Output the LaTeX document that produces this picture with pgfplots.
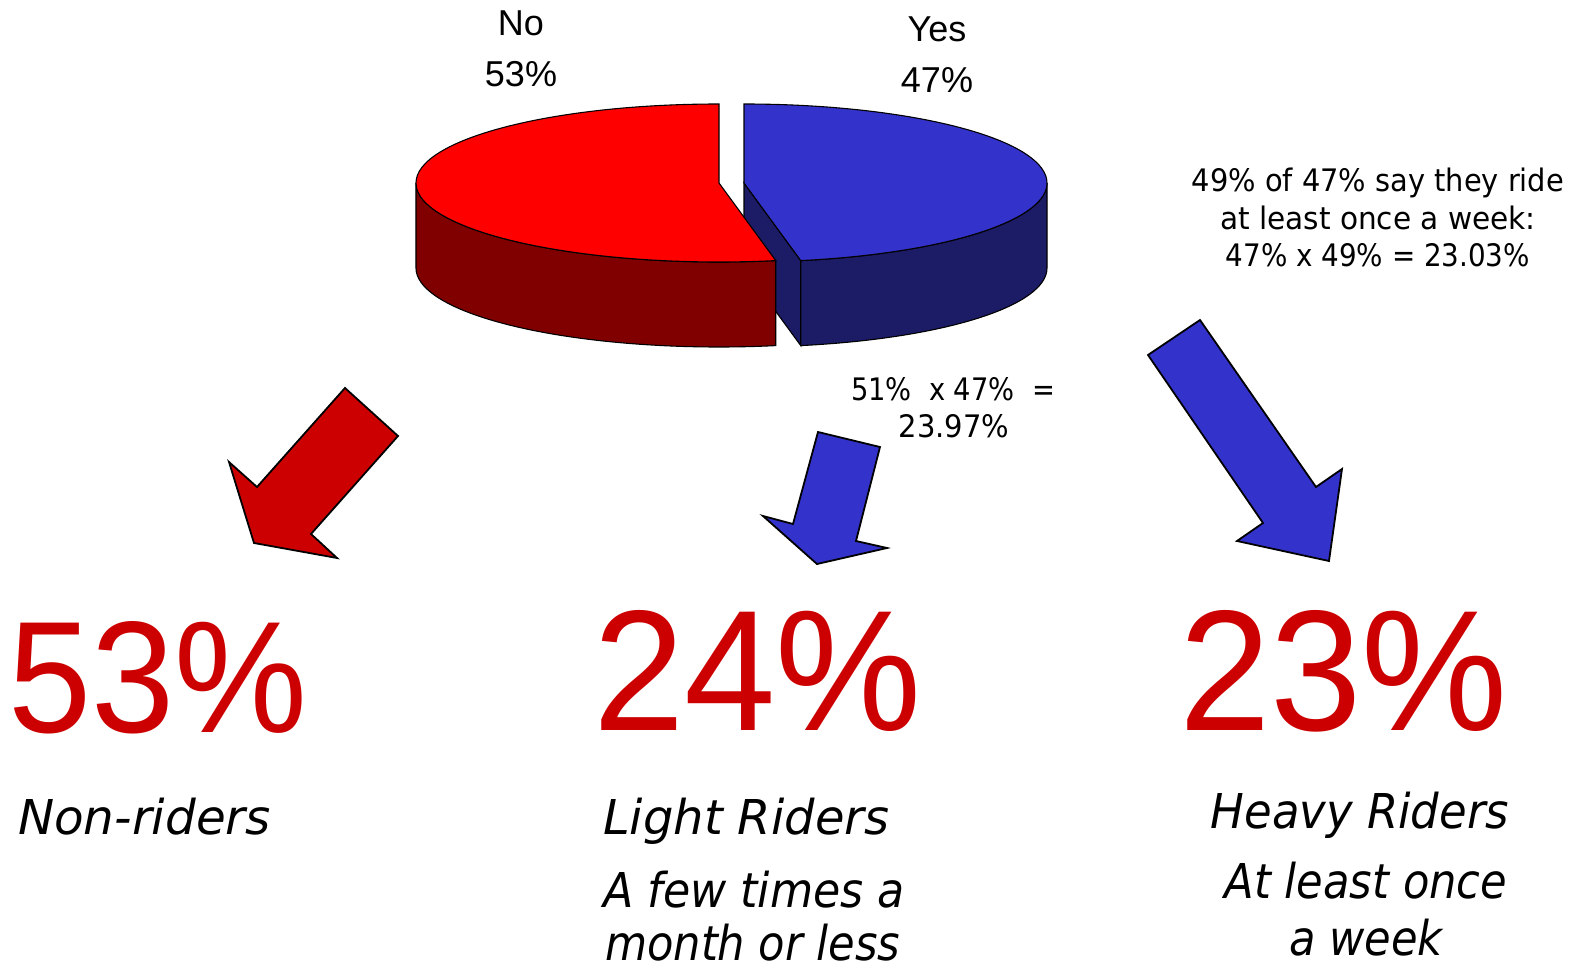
\documentclass[border=0pt]{standalone}
\usepackage{pgfplots}
\pgfplotsset{compat=1.18}
\usepackage{pgfplotstable}
\usepackage{fontspec}
\setmainfont{DejaVu Sans Condensed}
\newfontfamily\numfont{Liberation Sans}
\definecolor{topred}{HTML}{FF0000}
\definecolor{sidered}{HTML}{800000}
\definecolor{topblue}{HTML}{3333CC}
\definecolor{sideblue}{HTML}{1B1B66}
\definecolor{arrred}{HTML}{CC0000}

\pgfplotstableread{
label value
No 53
Yes 47
}\pietable
\pgfplotstablegetelem{0}{value}\of\pietable
\let\pNo\pgfplotsretval
\pgfmathsetmacro{\cut}{90+3.6*\pNo}

\begin{document}
\begin{tikzpicture}
\begin{axis}[
  scale only axis, width=1579bp, height=968bp,
  xmin=0, xmax=1579, ymin=0, ymax=968, y dir=reverse,
  enlargelimits=false, hide axis, clip=false]
% ---- blue slice (Yes), exploded to the right
\fill[sideblue,draw=black,line width=1.1pt] (axis cs:744,183) -- ++(\cut:303bp and 79bp) -- ++(0,-85bp) -- ([yshift=-85bp]axis cs:744,183) -- cycle;
\fill[sideblue,draw=black,line width=1.1pt] (axis cs:744,183) ++(\cut:303bp and 79bp) arc[start angle=\cut, end angle=360, x radius=303bp, y radius=79bp] -- ++(0,-85bp) arc[start angle=360, end angle=\cut, x radius=303bp, y radius=79bp] -- cycle;
\fill[topblue,draw=black,line width=1.1pt] (axis cs:744,183) -- ++(\cut:303bp and 79bp) arc[start angle=\cut, end angle=450, x radius=303bp, y radius=79bp] -- cycle;
% ---- red slice (No)
\fill[sidered,draw=black,line width=1.1pt] (axis cs:719,183) ++(180:303bp and 79bp) arc[start angle=180, end angle=\cut, x radius=303bp, y radius=79bp] -- ++(0,-85bp) arc[start angle=\cut, end angle=180, x radius=303bp, y radius=79bp] -- cycle;
\fill[topred,draw=black,line width=1.1pt] (axis cs:719,183) -- ++(90:303bp and 79bp) arc[start angle=90, end angle=\cut, x radius=303bp, y radius=79bp] -- cycle;

% ---- arrows
\addplot[fill=arrred, draw=black, line width=1.8pt] coordinates {(345,388) (398,436) (311,534) (337,558) (254,543) (229,462) (257,487)} -- cycle;
\addplot[fill=topblue, draw=black, line width=1.8pt] coordinates {(818,432) (880,447) (856,541) (887,548) (817,564) (763,516) (793,524)} -- cycle;
\addplot[fill=topblue, draw=black, line width=1.8pt] coordinates {(1200,320) (1316,487) (1342,469) (1329,561) (1237,541) (1263,523) (1148,355)} -- cycle;

% ---- pie labels
\begin{scope}[every node/.style={anchor=base, inner sep=0pt, font=\numfont\fontsize{36bp}{40bp}\selectfont}]
\node at (axis cs:521,36) {No};
\node at (axis cs:521,87) {53\%};
\node at (axis cs:937,42) {Yes};
\node at (axis cs:937,93) {47\%};
\end{scope}

% ---- notes
\begin{scope}[every node/.style={anchor=base, inner sep=0pt, font=\fontsize{31bp}{36bp}\selectfont}]
\node at (axis cs:1378,191) {\scalebox{1.035}[1]{49\% of 47\% say they ride}};
\node at (axis cs:1378,229) {\scalebox{1.06}[1]{at least once a week:}};
\node at (axis cs:1378,266) {\scalebox{0.995}[1]{47\% x 49\% = 23.03\%}};
\node at (axis cs:953,400) {\scalebox{0.98}[1]{51\%\ \ x 47\%\ \ =}};
\node at (axis cs:954,437) {\scalebox{1.04}[1]{23.97\%}};
\end{scope}

% ---- big numbers
\node[anchor=base west, inner sep=0pt, text=arrred, font=\numfont\fontsize{159bp}{170bp}\selectfont] at (axis cs:8,732) {\scalebox{0.94}[1]{53\%}};
\node[anchor=base west, inner sep=0pt, text=arrred, font=\numfont\fontsize{172bp}{180bp}\selectfont] at (axis cs:593,730) {\scalebox{0.955}[1]{24\%}};
\node[anchor=base west, inner sep=0pt, text=arrred, font=\numfont\fontsize{172bp}{180bp}\selectfont] at (axis cs:1179,730) {\scalebox{0.955}[1]{23\%}};

% ---- category texts
\begin{scope}[every node/.style={inner sep=0pt, font=\itshape\fontsize{48bp}{56bp}\selectfont}]
\node[anchor=base west] at (axis cs:18,834) {\scalebox{1.12}[1]{Non-riders}};
\node[anchor=base west] at (axis cs:603,834) {\scalebox{1.11}[1]{Light Riders}};
\node[anchor=base west] at (axis cs:603,907) {\scalebox{1.025}[1]{A few times a}};
\node[anchor=base west] at (axis cs:605,960) {month or less};
\node[anchor=base] at (axis cs:1360,828) {\scalebox{1.04}[1]{Heavy Riders}};
\node[anchor=base] at (axis cs:1366,898) {At least once};
\node[anchor=base] at (axis cs:1366,955) {a week};
\end{scope}
\end{axis}
\pgfresetboundingbox
\path (0,0) rectangle (1579bp,968bp);
\end{tikzpicture}
\end{document}
